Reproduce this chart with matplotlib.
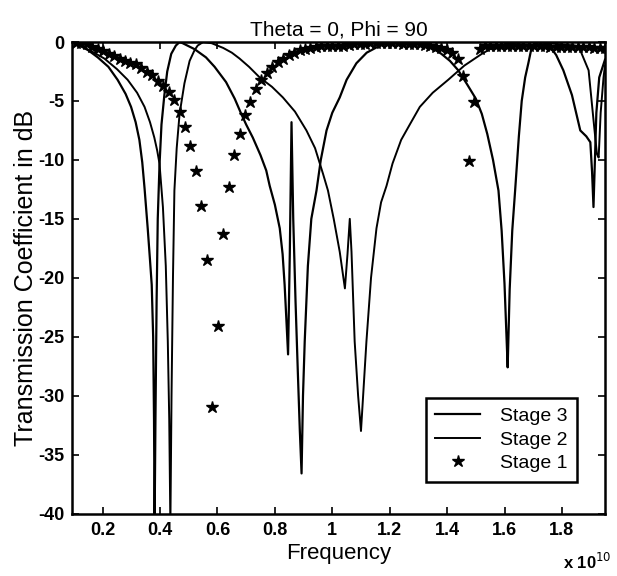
import matplotlib
matplotlib.use('Agg')
import matplotlib.pyplot as plt

plt.rcParams['font.family'] = ['Liberation Sans', 'DejaVu Sans']
plt.rcParams['axes.unicode_minus'] = False

# frequency in units of 1e10 Hz, transmission in dB
stage3_f = [0.095, 0.12, 0.15, 0.183, 0.22, 0.252, 0.28, 0.299, 0.315, 0.328,
            0.338, 0.346, 0.357, 0.365, 0.371, 0.376, 0.379, 0.381, 0.384, 0.388,
            0.392, 0.398, 0.405, 0.415, 0.425, 0.439, 0.455, 0.468, 0.479, 0.52,
            0.56, 0.59, 0.63, 0.66, 0.683, 0.70, 0.723, 0.75, 0.77, 0.782,
            0.80, 0.817, 0.827, 0.834, 0.840, 0.846, 0.852, 0.858, 0.864, 0.872,
            0.880, 0.887, 0.893, 0.898, 0.904, 0.915, 0.927, 0.945, 0.96, 0.98,
            1.0, 1.026, 1.05, 1.084, 1.12, 1.166, 1.2, 1.25, 1.3, 1.334,
            1.38, 1.41, 1.439, 1.47, 1.50, 1.521, 1.54, 1.56, 1.579, 1.59,
            1.60, 1.607, 1.611, 1.618, 1.627, 1.637, 1.65, 1.66, 1.672, 1.683,
            1.695, 1.72, 1.74, 1.759, 1.78, 1.805, 1.835, 1.864, 1.885, 1.899,
            1.905, 1.91, 1.915, 1.92, 1.93, 1.95]
stage3_db = [0.0, -0.3, -0.7, -1.3, -2.1, -3.2, -4.4, -5.5, -6.8, -8.3,
             -10.2, -12.4, -15.8, -18.5, -20.6, -25, -32, -41, -32, -22,
             -15, -10.5, -7, -4.5, -2.5, -1.0, -0.3, 0.0, -0.1, -0.6,
             -1.3, -2.1, -3.4, -4.8, -6.1, -7.0, -8.1, -9.6, -10.9, -12.2,
             -13.8, -15.8, -18, -20.6, -23.5, -26.5, -18, -6.8, -15, -22,
             -28, -33, -36.6, -30, -25.4, -19, -15, -12.6, -10, -7.5,
             -6, -4.7, -3.2, -1.8, -0.9, -0.3, 0.0, 0.0, -0.1, -0.3,
             -1.0, -1.6, -2.4, -3.6, -4.8, -6.1, -7.8, -10, -12.6, -16,
             -20.5, -25, -27.6, -21, -16, -12.6, -8, -5, -3, -1.8,
             -0.4, 0.0, 0.0, -0.4, -1.1, -2.4, -4.5, -7.5, -8.0, -8.5,
             -11, -14, -10, -6, -3, -1.5]

stage2_f = [0.095, 0.13, 0.17, 0.206, 0.25, 0.287, 0.32, 0.346, 0.365, 0.38,
            0.39, 0.398, 0.41, 0.42, 0.427, 0.432, 0.436, 0.44, 0.445, 0.45,
            0.458, 0.468, 0.485, 0.503, 0.52, 0.531, 0.55, 0.58, 0.62, 0.65,
            0.677, 0.71, 0.747, 0.79, 0.828, 0.87, 0.91, 0.94, 0.968, 0.985,
            1.005, 1.026, 1.044, 1.053, 1.061, 1.067, 1.078, 1.09, 1.10, 1.11,
            1.119, 1.135, 1.154, 1.17, 1.189, 1.21, 1.24, 1.27, 1.305, 1.35,
            1.404, 1.46, 1.521, 1.55, 1.579, 1.62, 1.7, 1.8, 1.845, 1.864,
            1.893, 1.91, 1.922, 1.928, 1.935, 1.945, 1.95]
stage2_db = [0.0, -0.4, -0.9, -1.4, -2.3, -3.2, -4.3, -5.5, -6.8, -8.1,
             -9.2, -10.3, -14, -19, -25.4, -32, -41, -30, -20, -12.6,
             -9, -6.1, -3.5, -1.6, -0.7, -0.3, 0.0, -0.1, -0.5, -0.9,
             -1.4, -2.1, -3.0, -3.8, -4.7, -5.9, -7.5, -9.0, -11.2, -12.6,
             -15, -17.8, -20.9, -18, -15, -17.8, -25.4, -30, -33, -29,
             -25.4, -20, -15.8, -13.6, -12.2, -10.3, -8.3, -7.0, -5.5, -4.3,
             -3.2, -2.0, -1.0, -0.6, -0.3, -0.1, 0.0, -0.2, -0.3, -0.7,
             -2.4, -6.6, -9.5, -9.8, -6, -3, -2]

stage1_f = [0.107, 0.126, 0.145, 0.164, 0.183, 0.202, 0.221, 0.240, 0.259, 0.278,
            0.297, 0.316, 0.335, 0.354, 0.373, 0.392, 0.411, 0.430, 0.449, 0.468,
            0.487, 0.506, 0.525, 0.544, 0.563, 0.582, 0.601, 0.620, 0.639, 0.658,
            0.677, 0.696, 0.715, 0.734, 0.753, 0.772, 0.791, 0.810, 0.829, 0.848,
            0.867, 0.886, 0.905, 0.924, 0.943, 0.962, 0.981, 1.000, 1.019, 1.038,
            1.057, 1.076, 1.095, 1.114, 1.133, 1.152, 1.171, 1.190, 1.209, 1.228,
            1.247, 1.266, 1.285, 1.304, 1.323, 1.342, 1.361, 1.380, 1.399, 1.418,
            1.437, 1.456, 1.475, 1.494, 1.513, 1.532, 1.551, 1.570, 1.589, 1.608,
            1.627, 1.646, 1.665, 1.684, 1.703, 1.722, 1.741, 1.760, 1.779, 1.798,
            1.817, 1.836, 1.855, 1.874, 1.893, 1.912, 1.931, 1.950]
stage1_db = [-0.05, -0.1, -0.2, -0.4, -0.6, -0.8, -1.0, -1.2, -1.4, -1.6,
             -1.8, -1.9, -2.2, -2.5, -2.8, -3.3, -3.7, -4.2, -4.9, -5.9,
             -7.2, -8.8, -10.9, -13.9, -18.5, -31.0, -24.1, -16.3, -12.3, -9.6,
             -7.8, -6.2, -5.1, -4.0, -3.2, -2.6, -2.1, -1.7, -1.4, -1.1,
             -0.9, -0.7, -0.6, -0.5, -0.4, -0.35, -0.3, -0.3, -0.3, -0.3,
             -0.25, -0.2, -0.2, -0.15, -0.1, -0.1, -0.1, -0.1, -0.1, -0.1,
             -0.15, -0.15, -0.2, -0.2, -0.25, -0.3, -0.4, -0.5, -0.7, -0.9,
             -1.4, -2.9, -10.1, -5.1, -0.6, -0.3, -0.3, -0.3, -0.3, -0.3,
             -0.3, -0.3, -0.3, -0.3, -0.3, -0.35, -0.35, -0.4, -0.4, -0.4,
             -0.4, -0.4, -0.45, -0.45, -0.45, -0.5, -0.5, -0.5]

xticks = [0.2, 0.4, 0.6, 0.8, 1.0, 1.2, 1.4, 1.6, 1.8]
xtick_labels = ['0.2', '0.4', '0.6', '0.8', '1', '1.2', '1.4', '1.6', '1.8']
yticks = [0, -5, -10, -15, -20, -25, -30, -35, -40]

fig = plt.figure(figsize=(6.17, 5.76), dpi=100)
ax = fig.add_axes([0.1175, 0.1085, 0.863, 0.8185])

ax.plot(stage3_f, stage3_db, color='black', lw=1.6, label='Stage 3')
ax.plot(stage2_f, stage2_db, color='black', lw=1.4, label='Stage 2')
ax.plot(stage1_f, stage1_db, ls='none', marker='*', ms=9, color='black',
        label='Stage 1')

ax.set_xlim(0.095, 1.95)
ax.set_ylim(-40, 0)
ax.set_xticks(xticks)
ax.set_xticklabels(xtick_labels)
ax.set_yticks(yticks)
ax.tick_params(direction='in', top=True, right=True, labelsize=13, length=5,
               width=1.2, pad=6)
for lab in ax.get_xticklabels() + ax.get_yticklabels():
    lab.set_fontweight('bold')
for s in ax.spines.values():
    s.set_linewidth(1.8)

ax.set_title('Theta = 0, Phi = 90', fontsize=15, pad=5)
ax.set_xlabel('Frequency', fontsize=16, labelpad=3)
ax.set_ylabel('Transmission Coefficient in dB', fontsize=18, labelpad=0)
fig.text(0.912, 0.012, 'x 10$^{10}$', fontsize=12, fontweight='bold')

leg = ax.legend(loc='lower right', bbox_to_anchor=(0.947, 0.067), fontsize=14,
                frameon=True, fancybox=False, edgecolor='black',
                handlelength=2.3, borderpad=0.5, labelspacing=0.3,
                handletextpad=1.0, borderaxespad=0)
leg.get_frame().set_linewidth(1.8)
leg.get_frame().set_alpha(1)

fig.savefig('out.png', dpi=100)
